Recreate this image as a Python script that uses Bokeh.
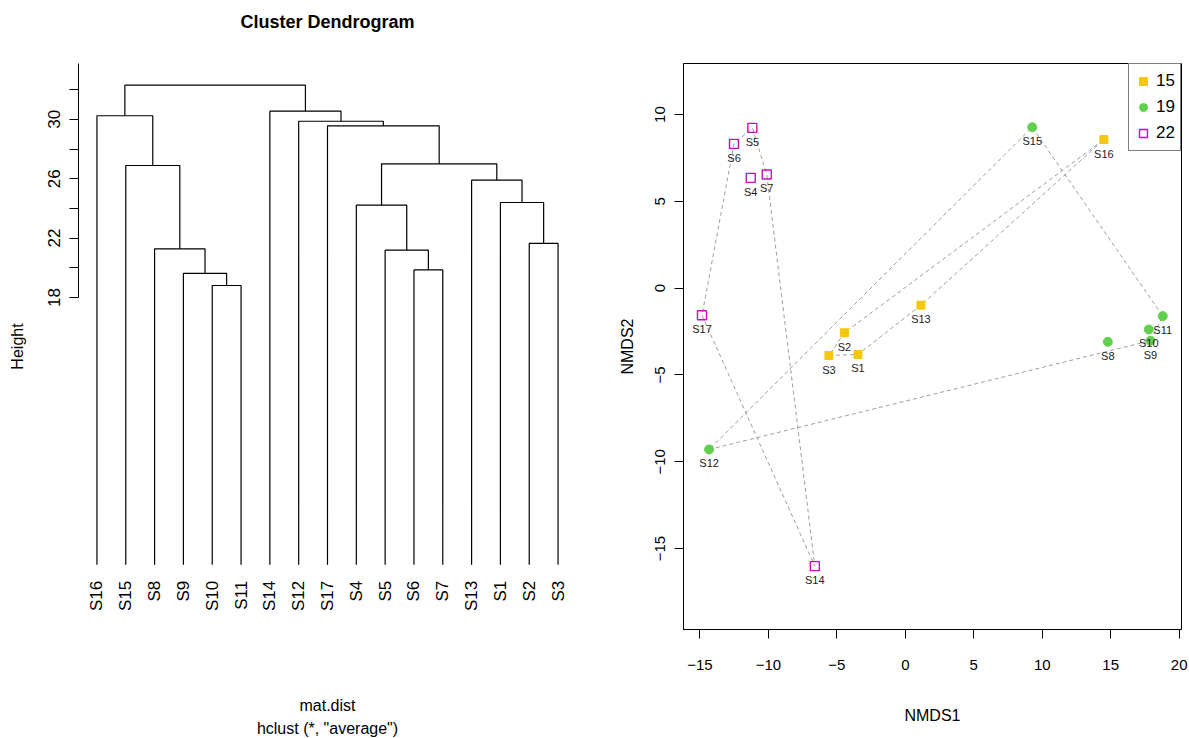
import math
from bokeh.plotting import figure
from bokeh.models import Range1d, FixedTicker, Legend, LegendItem, ColumnDataSource, Title
from bokeh.layouts import row
from bokeh.embed import file_html
from bokeh.resources import INLINE
from bokeh.core.properties import value

FONT = "Liberation Sans"

# ---------------- Dendrogram data (hclust, "average") ----------------
leaf_labels = [f"S{i}" for i in range(1, 18)]
merge_a = [-10, -9, -8, -15, -16, -6, -5, -4, -2, -1, -13, 8, -17, -12, -14, 5]
merge_b = [-11, 1, 2, 3, 4, -7, 6, 7, -3, 9, 10, 11, 12, 13, 14, 15]
merge_height = [18.81, 19.62, 21.28, 26.89, 30.24, 19.86, 21.19, 24.22,
                21.64, 24.40, 25.90, 27.00, 29.56, 29.87, 30.55, 32.30]
leaf_order = [16, 15, 8, 9, 10, 11, 14, 12, 17, 4, 5, 6, 7, 13, 1, 2, 3]
height_ticks = [18, 20, 22, 24, 26, 28, 30, 32]
height_tick_shown = [18, 22, 26, 30]

# ---------------- NMDS data ----------------
sites = [f"S{i}" for i in range(1, 18)]
nmds1 = [-3.46, -4.45, -5.58, -11.29, -11.17, -12.51, -10.12, 14.79, 17.90,
         17.78, 18.80, -14.33, 1.14, -6.61, 9.27, 14.50, -14.85]
nmds2 = [-3.82, -2.57, -3.88, 6.35, 9.23, 8.31, 6.55, -3.09, -3.03,
         -2.38, -1.61, -9.29, -0.98, -16.01, 9.27, 8.56, -1.56]
group = [15, 15, 15, 22, 22, 22, 22, 19, 19, 19, 19, 19, 15, 22, 19, 15, 22]
group_levels = [15, 19, 22]
nmds_xticks = [-15, -10, -5, 0, 5, 10, 15, 20]
nmds_yticks = [-15, -10, -5, 0, 5, 10]

group_style = {
    15: dict(marker="square", fill_color="#F5C710", line_color="#F5C710", size=8, line_width=1),
    19: dict(marker="circle", fill_color="#61D04F", line_color="#61D04F", size=9, line_width=1),
    22: dict(marker="square", fill_color=None, line_color="#CD0BBC", size=9, line_width=1.4),
}

# ================= Left: dendrogram =================
n = len(leaf_labels)
pos = {leaf: i + 1 for i, leaf in enumerate(leaf_order)}
node_x, node_h = {}, {}


def child(c):
    if c < 0:
        return pos[-c], 0.0
    return node_x[c], node_h[c]


xs, ys = [], []
for i, (a, b, h) in enumerate(zip(merge_a, merge_b, merge_height), start=1):
    xa, ha = child(a)
    xb, hb = child(b)
    xs.append([xa, xa, xb, xb])
    ys.append([ha, h, h, hb])
    node_x[i] = (xa + xb) / 2
    node_h[i] = h

p1 = figure(width=598, height=738, output_backend="svg", toolbar_location=None,
            x_range=Range1d(0.36, n + 0.64), y_range=Range1d(-4.36, 33.76),
            min_border_left=78, min_border_right=22, min_border_top=63, min_border_bottom=109)
p1.outline_line_color = None
p1.grid.visible = False
p1.title.text = "Cluster Dendrogram\n "
p1.title.align = "center"
p1.title.vertical_align = "top"
p1.title.text_font = FONT
p1.title.text_font_size = "18px"
p1.title.text_font_style = "bold"
p1.title.text_color = "black"
p1.title.standoff = 20

p1.multi_line(xs=xs, ys=ys, line_color="black", line_width=1.2)

p1.text(x=[pos[l] for l in leaf_order], y=[0] * n, text=[f"S{l}" for l in leaf_order],
        angle=math.pi / 2, text_align="right", text_baseline="middle", y_offset=16,
        text_font=value(FONT), text_font_size="17px", text_color="black")

ya = p1.yaxis[0]
ya.ticker = FixedTicker(ticks=height_ticks)
ya.major_label_overrides = {t: (str(t) if t in height_tick_shown else "") for t in height_ticks}
ya.bounds = (height_ticks[0], 33.76)
ya.major_label_orientation = "vertical"
ya.major_tick_in = 0
ya.major_tick_out = 9
ya.minor_tick_line_color = None
ya.major_label_standoff = 9
ya.major_label_text_font = FONT
ya.major_label_text_font_size = "17px"
ya.major_label_text_color = "black"
ya.axis_line_color = "black"
ya.major_tick_line_color = "black"
ya.axis_label = "Height"
ya.axis_label_standoff = 20
ya.axis_label_text_font = FONT
ya.axis_label_text_font_size = "16px"
ya.axis_label_text_font_style = "normal"
ya.axis_label_text_color = "black"

xa1 = p1.xaxis[0]
xa1.ticker = FixedTicker(ticks=[])
xa1.axis_line_color = None
xa1.major_tick_line_color = None
xa1.minor_tick_line_color = None
xa1.major_tick_out = 0
xa1.major_label_standoff = 0
xa1.axis_label = "mat.dist"
xa1.axis_label_standoff = 67
xa1.axis_label_text_font = FONT
xa1.axis_label_text_font_size = "16px"
xa1.axis_label_text_font_style = "normal"
xa1.axis_label_text_color = "black"

p1.add_layout(Title(text='hclust (*, "average")', align="center", text_font=FONT,
                    text_font_size="16px", text_font_style="normal", text_color="black",
                    standoff=2), "below")

# ================= Right: NMDS =================
p2 = figure(width=591, height=738, output_backend="svg", toolbar_location=None,
            x_range=Range1d(-16.2, 20.17), y_range=Range1d(-19.66, 12.94),
            min_border_left=85, min_border_right=8, min_border_top=63, min_border_bottom=109)
p2.outline_line_color = "black"
p2.outline_line_width = 1
p2.grid.visible = False


def convex_hull(pts):
    pts = sorted(set(pts))
    if len(pts) <= 2:
        return pts

    def cross(o, a, b):
        return (a[0] - o[0]) * (b[1] - o[1]) - (a[1] - o[1]) * (b[0] - o[0])

    lower, upper = [], []
    for pt in pts:
        while len(lower) >= 2 and cross(lower[-2], lower[-1], pt) <= 0:
            lower.pop()
        lower.append(pt)
    for pt in reversed(pts):
        while len(upper) >= 2 and cross(upper[-2], upper[-1], pt) <= 0:
            upper.pop()
        upper.append(pt)
    return lower[:-1] + upper[:-1]


hx, hy = [], []
for g in group_levels:
    pts = [(x, y) for x, y, gg in zip(nmds1, nmds2, group) if gg == g]
    hull = convex_hull(pts)
    hull = hull + [hull[0]]
    hx.append([h[0] for h in hull])
    hy.append([h[1] for h in hull])
p2.multi_line(xs=hx, ys=hy, line_color="#9E9E9E", line_dash="4 3", line_width=1)

renderers = {}
for g in group_levels:
    idx = [i for i, gg in enumerate(group) if gg == g]
    src = ColumnDataSource(dict(x=[nmds1[i] for i in idx], y=[nmds2[i] for i in idx]))
    renderers[g] = p2.scatter(x="x", y="y", source=src, **group_style[g])

p2.text(x=nmds1, y=nmds2, text=sites, y_offset=14, text_align="center", text_baseline="middle",
        text_font=value(FONT), text_font_size="11px", text_color="#222222")

for ax, ticks, lab in ((p2.xaxis[0], nmds_xticks, "NMDS1"), (p2.yaxis[0], nmds_yticks, "NMDS2")):
    ax.ticker = FixedTicker(ticks=ticks)
    ax.major_label_overrides = {t: str(t).replace("-", "\u2212") for t in ticks}
    ax.major_tick_in = 0
    ax.major_tick_out = 9
    ax.minor_tick_line_color = None
    ax.major_label_text_font = FONT
    ax.major_label_text_font_size = "15px"
    ax.major_label_text_color = "black"
    ax.axis_line_color = "black"
    ax.major_tick_line_color = "black"
    ax.axis_label = lab
    ax.axis_label_text_font = FONT
    ax.axis_label_text_font_size = "16px"
    ax.axis_label_text_font_style = "normal"
    ax.axis_label_text_color = "black"
p2.xaxis[0].major_label_standoff = 21
p2.xaxis[0].axis_label_standoff = 34
p2.yaxis[0].major_label_standoff = 9
p2.yaxis[0].axis_label_standoff = 17
p2.yaxis[0].major_label_orientation = "vertical"

legend = Legend(items=[LegendItem(label=value(str(g)), renderers=[renderers[g]]) for g in group_levels],
                location="top_right", margin=0, padding=4, spacing=0,
                glyph_width=20, glyph_height=26, label_height=26, label_standoff=3,
                label_text_font=FONT, label_text_font_size="17px", label_text_color="black",
                border_line_color="black", border_line_width=1, background_fill_alpha=1)
p2.add_layout(legend)

layout = row(p1, p2)
open("out.html", "w").write(file_html(layout, INLINE))
